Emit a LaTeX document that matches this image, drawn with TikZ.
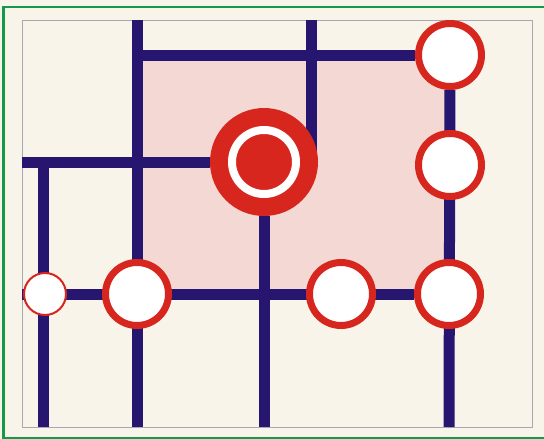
\documentclass[tikz,border=0pt]{standalone}
\usetikzlibrary{positioning, backgrounds}
\definecolor{mnavy}{HTML}{26166F}
\definecolor{mred}{HTML}{D7261E}
\definecolor{mpink}{HTML}{F3D8D4}
\definecolor{mcream}{HTML}{F8F4E9}
\definecolor{mgreen}{HTML}{12994A}
\definecolor{mframe}{HTML}{A8A8B4}
\tikzset{
  track/.style={line width=11pt, mnavy},
  stop/.style={circle, draw=mred, fill=white, line width=7pt,
               minimum size=63pt, inner sep=0pt},
  smallstop/.style={circle, draw=mred, fill=white, line width=2pt,
                    minimum size=42pt, inner sep=0pt},
  hub/.style={circle, fill=mred, minimum size=108pt, inner sep=0pt},
  hubring/.style={circle, draw=white, line width=8pt,
                  minimum size=64pt, inner sep=0pt},
}
\begin{document}
\begin{tikzpicture}[x=1pt, y=-1pt]
  \useasboundingbox (0,0) rectangle (544,439);

  \node[hub] (h) at (264,162) {};
  \node[hubring] (hr) at (264,162) {};
  \node[stop] (tr) at (450,55) {};
  \node[stop] (mr) at (450,165) {};
  \node[stop] (br) at (449,294) {};
  \node[stop] (bm) at (341,294) {};
  \node[stop] (bl) at (137,294) {};
  \node[smallstop] (sl) at (45,294) {};

  \coordinate (c1) at (137,55);
  \coordinate (t1) at (137,20);   \coordinate (b1) at (137,427);
  \coordinate (t2) at (311,20);   \coordinate (m2) at (311,162);
  \coordinate (l1) at (22,162);
  \coordinate (k1) at (43,162);   \coordinate (b2) at (43,427);
  \coordinate (b3) at (264,427);
  \coordinate (l2) at (22,294);
  \coordinate (b4) at (449,427);

  \begin{scope}[on background layer]
    \fill[mcream] (0,0) rectangle (544,439);
    \fill[mpink] (c1) rectangle (br.center);
    \draw[mframe, line width=1pt] (22,20) rectangle (532,427);
    \draw[track] (t1) -- (b1);
    \draw[track] (c1) -- (tr);
    \draw[track] (t2) -- (m2);
    \draw[track] (l1) -- (h);
    \draw[track] (k1) -- (b2);
    \draw[track] (h) -- (b3);
    \draw[track] (l2) -- (br);
    \draw[track] (tr) -- (b4);
  \end{scope}

  \draw[mgreen, line width=2.5pt] (3.5,7) rectangle (548,438);
\end{tikzpicture}
\end{document}
